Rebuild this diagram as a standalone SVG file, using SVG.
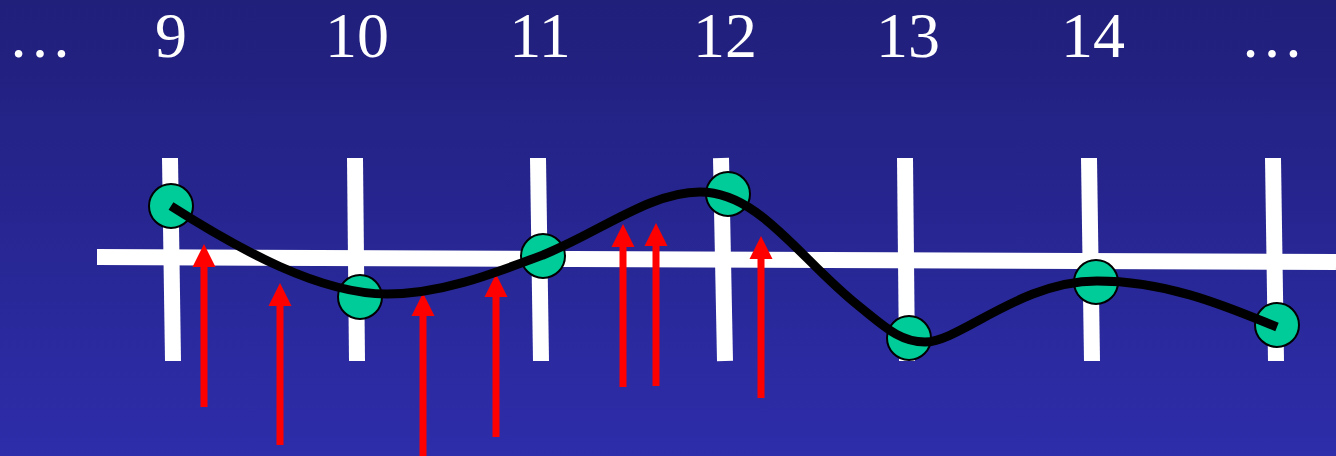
<svg xmlns="http://www.w3.org/2000/svg" width="1336" height="456" viewBox="0 0 1336 456">
  <defs>
    <linearGradient id="bg" x1="0" y1="0" x2="0" y2="1">
      <stop offset="0" stop-color="#201f7a"/>
      <stop offset="1" stop-color="#2e2daa"/>
    </linearGradient>
    <style>
      .lbl { font-family: "Liberation Serif", "Times New Roman", serif; font-size: 64px; fill: #ffffff; text-anchor: middle; }
      .grid { stroke: #ffffff; stroke-width: 16; fill: none; }
      .pt { fill: #00cc99; stroke: #000000; stroke-width: 2; }
      .shaft { stroke: #ff0000; stroke-width: 7; fill: none; }
      .head { fill: #ff0000; }
      .curve { stroke: #000000; stroke-width: 9; fill: none; }
    </style>
  </defs>
  <rect width="1336" height="456" fill="url(#bg)"/>

  <g id="labels">
    <text class="lbl" x="40" y="57">…</text>
    <text class="lbl" x="171" y="57">9</text>
    <text class="lbl" x="357" y="57">10</text>
    <text class="lbl" x="540" y="57">11</text>
    <text class="lbl" x="725" y="57">12</text>
    <text class="lbl" x="908" y="57">13</text>
    <text class="lbl" x="1093" y="57">14</text>
    <text class="lbl" x="1272" y="57">…</text>
  </g>

  <g id="grid">
    <line class="grid" x1="97" y1="257" x2="1336" y2="262"/>
    <line class="grid" x1="170" y1="158" x2="173" y2="361"/>
    <line class="grid" x1="355" y1="158" x2="357" y2="361"/>
    <line class="grid" x1="538" y1="158" x2="541" y2="361"/>
    <line class="grid" x1="721" y1="158" x2="725" y2="361"/>
    <line class="grid" x1="905" y1="158" x2="907" y2="361"/>
    <line class="grid" x1="1089" y1="158" x2="1092" y2="361"/>
    <line class="grid" x1="1273" y1="158" x2="1276" y2="361"/>
  </g>

  <g id="connectors">
    <g id="arrows">
      <line class="shaft" x1="204" y1="407" x2="204" y2="262"/>
      <polygon class="head" points="204,244 192.5,267 215.5,267"/>
      <line class="shaft" x1="280" y1="445" x2="280" y2="300"/>
      <polygon class="head" points="280,283 268.5,306 291.5,306"/>
      <line class="shaft" x1="423" y1="460" x2="423" y2="310"/>
      <polygon class="head" points="423,293 411.5,316 434.5,316"/>
      <line class="shaft" x1="496" y1="437" x2="496" y2="292"/>
      <polygon class="head" points="496,274 484.5,297 507.5,297"/>
      <line class="shaft" x1="623" y1="387" x2="623" y2="242"/>
      <polygon class="head" points="623,224 611.5,247 634.5,247"/>
      <line class="shaft" x1="656" y1="386" x2="656" y2="241"/>
      <polygon class="head" points="656,223 644.5,246 667.5,246"/>
      <line class="shaft" x1="761" y1="398" x2="761" y2="254"/>
      <polygon class="head" points="761,236 749.5,259 772.5,259"/>
    </g>
  </g>

  <g id="n9"><circle class="pt" cx="171" cy="206" r="22"/></g>
  <g id="n10"><circle class="pt" cx="360" cy="297" r="22"/></g>
  <g id="n11"><circle class="pt" cx="543" cy="256" r="22"/></g>
  <g id="n12"><circle class="pt" cx="728" cy="194" r="22"/></g>
  <g id="n13"><circle class="pt" cx="909" cy="338" r="22"/></g>
  <g id="n14"><circle class="pt" cx="1096" cy="282" r="22"/></g>
  <g id="n15"><circle class="pt" cx="1277" cy="325" r="22"/></g>

  <g id="curve-connector">
    <path class="curve" d="M171,206 C240,250 320,294 387,294 C440,294 490,275 543,255 C600,232 650,192 700,192 C760,192 800,260 860,307 C885,327 900,342 925,342 C960,342 1020,281 1097,281 C1170,281 1230,308 1277,327"/>
  </g>
</svg>
